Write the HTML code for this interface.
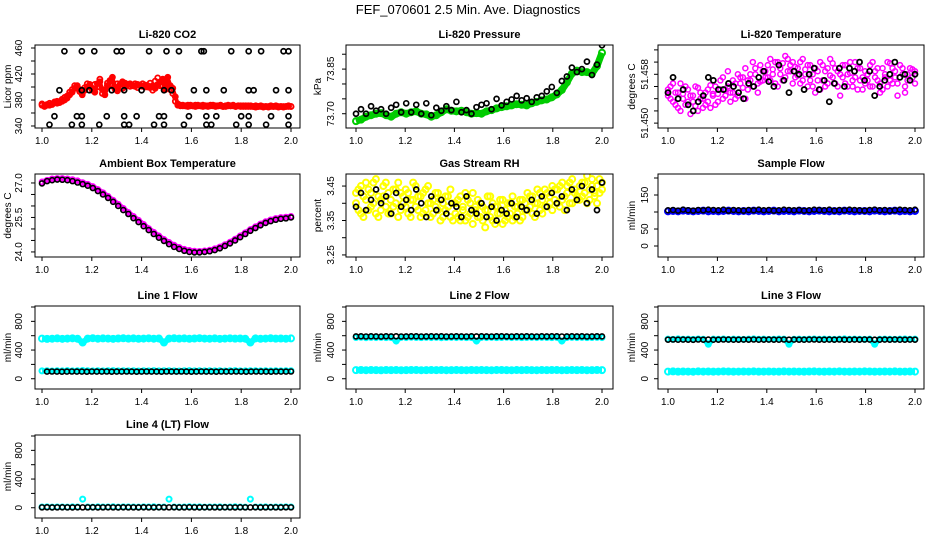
<!DOCTYPE html>
<html><head><meta charset="utf-8"><style>
html,body{margin:0;padding:0;background:#fff}
svg{display:block;font-family:"Liberation Sans",Arial,sans-serif}
</style></head><body>
<svg id="c" width="936" height="540" viewBox="0 0 936 540">
<rect width="936" height="540" fill="#fff"/>
<text x="468" y="14" text-anchor="middle" font-size="13">FEF_070601  2.5 Min. Ave. Diagnostics</text>
</svg>
<script>
const xTicks=[1.0,1.2,1.4,1.6,1.8,2.0];
const xTickLabels=["1.0","1.2","1.4","1.6","1.8","2.0"];
const co2BlackX=[1.09,1.16,1.21,1.30,1.32,1.43,1.50,1.55,1.64,1.65,1.76,1.83,1.88,1.97,1.99,1.07,1.16,1.19,1.28,1.33,1.40,1.49,1.52,1.61,1.66,1.73,1.83,1.85,1.94,1.99,1.05,1.14,1.16,1.26,1.33,1.38,1.47,1.49,1.59,1.66,1.70,1.80,1.83,1.92,1.99,1.03,1.12,1.16,1.23,1.33,1.35,1.45,1.49,1.57,1.66,1.68,1.78,1.83,1.90,1.99];
const co2BlackY=[455,455,455,455,455,455,455,455,455,455,455,455,455,455,455,395,395,395,395,395,395,395,395,395,395,395,395,395,395,395,355,355,355,355,355,355,355,355,355,355,355,355,355,355,355,342,342,342,342,342,342,342,342,342,342,342,342,342,342,342];
const co2Red=[372,371,373,372,374,376,375,377,378,380,383,388,392,398,402,396,390,395,400,404,398,392,405,408,396,388,402,410,415,400,394,404,408,400,403,405,402,401,404,402,401,403,400,399,402,398,404,408,412,396,415,402,398,385,374,372,371,371,372,371,371,372,371,371,372,371,370,371,372,371,371,371,370,371,372,371,371,370,371,371,370,371,371,370,370,371,370,370,369,370,370,371,370,370,369,370,370,370,371,370];
const co2Red2=[374,370,372,375,373,377,378,376,381,384,386,392,396,402,398,393,388,399,405,401,395,404,400,412,390,394,406,404,402,397,405,400,398,406,404,401,403,405,399,403,405,400,402,406,395,409,414,402,401,410,405,396,390,378,372,371,372,371,370,372,371,370,372,371,370,371,371,372,371,370,371,372,370,370,371,371,372,370,371,370,371,370,370,371,370,369,370,371,370,370,369,370,370,371,370,370,369,370,370,370];
const co2Ticks=[340,360,380,400,420,440,460];
const co2TickLabels=["340","","380","","420","","460"];
const presGreen=[73.675,73.680,73.690,73.695,73.700,73.702,73.695,73.690,73.700,73.705,73.700,73.705,73.708,73.700,73.698,73.690,73.695,73.705,73.715,73.710,73.708,73.710,73.705,73.700,73.702,73.700,73.708,73.712,73.718,73.722,73.725,73.728,73.732,73.730,73.728,73.735,73.740,73.745,73.748,73.755,73.765,73.780,73.805,73.835,73.845,73.840,73.840,73.835,73.860,73.905];
const presBlack=[73.700,73.715,73.700,73.725,73.710,73.715,73.700,73.720,73.730,73.705,73.735,73.705,73.730,73.700,73.735,73.695,73.720,73.710,73.725,73.712,73.740,73.705,73.712,73.700,73.722,73.730,73.735,73.715,73.750,73.728,73.740,73.748,73.760,73.745,73.752,73.740,73.755,73.760,73.775,73.790,73.770,73.810,73.825,73.855,73.840,73.850,73.875,73.830,73.865,73.930];
const presTicks=[73.70,73.75,73.80,73.85,73.90];
const presTickLabels=["73.70","","","73.85",""];
const tempMag=[51.4555,51.4540,51.4565,51.4530,51.4550,51.4520,51.4548,51.4560,51.4535,51.4515,51.4545,51.4528,51.4558,51.4540,51.4525,51.4550,51.4535,51.4562,51.4545,51.4530,51.4548,51.4570,51.4540,51.4555,51.4585,51.4535,51.4550,51.4565,51.4545,51.4575,51.4558,51.4540,51.4570,51.4580,51.4560,51.4590,51.4550,51.4568,51.4585,51.4575,51.4595,51.4570,51.4588,51.4600,51.4560,51.4580,51.4598,51.4575,51.4605,51.4585,51.4565,51.4592,51.4578,51.4600,51.4570,51.4588,51.4560,51.4595,51.4580,51.4550,51.4585,51.4600,51.4570,51.4560,51.4590,51.4578,51.4598,51.4565,51.4585,51.4545,51.4575,51.4595,51.4560,51.4582,51.4570,51.4600,51.4555,51.4590,51.4575,51.4565,51.4580,51.4595,51.4560,51.4585,51.4570,51.4550,51.4590,51.4575,51.4560,51.4598,51.4565,51.4585,51.4545,51.4575,51.4590,51.4560,51.4580,51.4570,51.4588,51.4565];
const tempMag2=[51.4545,51.4560,51.4535,51.4550,51.4525,51.4565,51.4540,51.4530,51.4555,51.4545,51.4535,51.4560,51.4520,51.4550,51.4540,51.4530,51.4555,51.4525,51.4548,51.4560,51.4535,51.4555,51.4575,51.4545,51.4560,51.4550,51.4570,51.4540,51.4580,51.4565,51.4575,51.4590,51.4555,51.4570,51.4600,51.4580,51.4565,51.4595,51.4570,51.4585,51.4575,51.4605,51.4580,51.4565,51.4600,51.4590,51.4570,51.4610,51.4585,51.4595,51.4600,51.4575,51.4590,51.4565,51.4605,51.4580,51.4595,51.4570,51.4560,51.4590,51.4570,51.4555,51.4595,51.4585,51.4565,51.4605,51.4575,51.4590,51.4560,51.4580,51.4595,51.4565,51.4580,51.4600,51.4560,51.4575,51.4590,51.4570,51.4555,51.4585,51.4570,51.4560,51.4600,51.4575,51.4590,51.4565,51.4555,51.4580,51.4600,51.4570,51.4590,51.4575,51.4565,51.4595,51.4580,51.4550,51.4570,51.4590,51.4575,51.4585];
const tempBlack=[51.4550,51.4575,51.4540,51.4555,51.4530,51.4520,51.4535,51.4545,51.4575,51.4570,51.4555,51.4555,51.4565,51.4560,51.4550,51.4540,51.4565,51.4560,51.4575,51.4585,51.4568,51.4560,51.4595,51.4570,51.4550,51.4585,51.4580,51.4555,51.4580,51.4590,51.4555,51.4570,51.4535,51.4565,51.4590,51.4560,51.4590,51.4585,51.4600,51.4570,51.4585,51.4545,51.4560,51.4570,51.4580,51.4600,51.4575,51.4580,51.4570,51.4580];
const tempTicks=[51.450,51.452,51.454,51.456,51.458,51.460,51.462];
const tempTickLabels=["51.450","","","","51.458","",""];
const ambMag=[27.05,27.12,27.18,27.20,27.20,27.18,27.15,27.10,27.02,26.95,26.85,26.72,26.58,26.42,26.25,26.08,25.90,25.72,25.55,25.38,25.20,25.02,24.86,24.70,24.55,24.42,24.30,24.20,24.12,24.07,24.04,24.03,24.05,24.08,24.14,24.22,24.32,24.43,24.56,24.70,24.84,24.98,25.10,25.22,25.32,25.40,25.46,25.50,25.52,25.55];
const ambBlack=[26.98,27.08,27.12,27.15,27.14,27.12,27.08,27.02,26.95,26.88,26.78,26.65,26.50,26.35,26.18,26.00,25.82,25.65,25.47,25.30,25.12,24.95,24.78,24.62,24.48,24.34,24.22,24.13,24.05,24.00,23.98,23.98,24.00,24.03,24.08,24.16,24.26,24.37,24.50,24.64,24.78,24.92,25.04,25.16,25.26,25.34,25.40,25.44,25.46,25.50];
const ambTicks=[24.0,24.5,25.0,25.5,26.0,26.5,27.0];
const ambTickLabels=["24.0","","","25.5","","","27.0"];
const rhYellow=[3.40,3.44,3.37,3.42,3.46,3.38,3.43,3.40,3.47,3.36,3.41,3.45,3.39,3.43,3.37,3.44,3.40,3.46,3.38,3.42,3.39,3.43,3.36,3.41,3.45,3.38,3.42,3.37,3.44,3.40,3.36,3.41,3.39,3.43,3.35,3.40,3.38,3.42,3.36,3.40,3.37,3.41,3.35,3.39,3.43,3.36,3.40,3.34,3.38,3.41,3.36,3.39,3.33,3.38,3.42,3.35,3.39,3.37,3.41,3.34,3.38,3.36,3.40,3.35,3.39,3.37,3.41,3.36,3.40,3.38,3.42,3.37,3.40,3.44,3.38,3.41,3.39,3.43,3.40,3.45,3.41,3.44,3.39,3.46,3.42,3.45,3.40,3.47,3.43,3.41,3.45,3.42,3.46,3.40,3.44,3.47,3.42,3.45,3.43,3.46];
const rhYellow2=[3.43,3.38,3.45,3.36,3.41,3.44,3.39,3.46,3.37,3.42,3.38,3.42,3.46,3.37,3.41,3.39,3.44,3.36,3.43,3.40,3.44,3.37,3.41,3.46,3.39,3.42,3.36,3.43,3.38,3.45,3.40,3.37,3.43,3.38,3.41,3.36,3.42,3.39,3.44,3.35,3.40,3.36,3.42,3.38,3.35,3.41,3.37,3.43,3.39,3.36,3.40,3.35,3.38,3.42,3.36,3.40,3.34,3.39,3.37,3.41,3.35,3.40,3.37,3.42,3.36,3.39,3.35,3.41,3.38,3.43,3.39,3.42,3.36,3.40,3.43,3.37,3.44,3.39,3.42,3.38,3.44,3.40,3.45,3.41,3.38,3.43,3.46,3.40,3.44,3.42,3.41,3.46,3.43,3.48,3.41,3.45,3.43,3.40,3.47,3.44];
const rhBlack=[3.39,3.43,3.38,3.41,3.44,3.40,3.42,3.37,3.43,3.39,3.41,3.38,3.44,3.40,3.36,3.42,3.38,3.41,3.37,3.40,3.39,3.36,3.42,3.38,3.37,3.40,3.36,3.39,3.35,3.38,3.37,3.40,3.36,3.39,3.38,3.41,3.37,3.42,3.39,3.43,3.40,3.42,3.38,3.44,3.41,3.45,3.40,3.44,3.38,3.46];
const rhTicks=[3.25,3.30,3.35,3.40,3.45];
const rhTickLabels=["3.25","","3.35","","3.45"];
const sampleBlue=[102,103,102,104,103,102,103,104,102,103,102,103,104,103,102,103,102,104,103,102,103,104,102,103,103,102,104,103,102,103,104,103,102,103,102,104,103,102,103,103,102,104,103,102,103,104,102,103,102,103];
const sampleBlack=[105,106,104,107,105,104,106,105,107,106,105,107,104,106,105,104,106,105,107,105,106,104,105,107,106,105,106,104,105,107,106,105,107,104,106,105,107,106,105,104,106,107,105,106,104,105,107,106,105,107];
const sampleTicks=[0,50,100,150,200];
const sampleTickLabels=["0","50","","150",""];
const l1CyanHi=[560,555,558,562,556,560,563,557,505,560,565,558,562,560,556,561,564,559,562,557,560,563,558,561,505,560,564,559,562,557,561,565,560,558,562,556,560,563,559,561,558,505,562,557,560,564,559,561,558,562];
const l1CyanLo=[110,112,108,111,109,113,110,112,115,111,109,112,110,111,113,109,112,110,111,108,112,110,113,109,111,112,110,108,111,113,110,112,109,111,110,112,108,111,113,110,109,112,111,110,112,109,111,110,112,111];
const l1Black=[100,101,100,99,100,101,100,100,99,101,100,100,101,99,100,100,101,100,99,100,101,100,100,99,101,100,100,101,100,99,100,101,100,100,99,101,100,100,101,100,99,100,101,100,100,99,101,100,100,101];
const l2Black=[590,592,589,591,590,588,592,590,591,589,590,592,591,589,590,591,590,592,589,590,591,590,589,592,590,591,590,589,591,592,590,589,591,590,592,590,589,591,590,592,591,589,590,591,590,592,589,590,591,590];
const l2CyanHi=[575,578,572,576,574,577,573,575,525,576,574,578,575,573,577,574,576,572,575,577,574,576,573,575,525,576,574,577,573,575,578,574,576,573,575,577,574,576,575,573,577,525,575,576,574,577,573,575,576,574];
const l2CyanLo=[120,122,119,121,120,118,122,120,121,119,120,122,121,119,120,121,120,122,119,120,121,120,119,122,120,121,120,119,121,122,120,119,121,120,122,120,119,121,120,122,121,119,120,121,120,122,119,120,121,120];
const l3Black=[545,547,544,546,545,543,547,545,546,544,545,547,546,544,545,546,545,547,544,545,546,545,544,547,545,546,545,544,546,547,545,544,546,545,547,545,544,546,545,547,546,544,545,546,545,547,544,545,546,545];
const l3CyanHi=[552,548,555,550,553,549,554,551,480,552,550,554,549,553,551,548,552,555,550,553,549,551,554,552,480,550,553,549,552,554,550,553,551,549,552,555,550,553,551,549,552,480,550,553,551,549,552,554,550,552];
const l3CyanLo=[100,102,99,101,100,98,102,100,101,99,100,102,101,99,100,101,100,102,99,100,101,100,99,102,100,101,100,99,101,102,100,99,101,100,102,100,99,101,100,102,101,99,100,101,100,102,99,100,101,100];
const l4Cyan=[10,12,9,11,10,8,12,10,120,11,9,12,10,11,13,9,12,10,11,8,12,10,13,9,11,120,10,8,11,13,10,12,9,11,10,12,8,11,13,10,9,120,11,10,12,9,11,10,12,11];
const l4Black=[5,6,4,5,6,5,4,6,5,5,6,4,5,6,5,4,6,5,5,4,6,5,4,6,5,5,6,4,5,6,5,4,6,5,5,4,6,5,4,6,5,5,6,4,5,6,5,4,6,5];
const flowTicks=[0,200,400,600,800,1000];
const flowTickLabels=["0","","400","","800",""];

const NS="http://www.w3.org/2000/svg";
const svg=document.getElementById('c');
function mk(tag,attrs,parent){const e=document.createElementNS(NS,tag);for(const k in attrs)e.setAttribute(k,attrs[k]);parent.appendChild(e);return e;}
const COLS=[{l:35,r:300,xa:42,xb:291,lab:18,tit:8},{l:346,r:613,xa:356,xb:602,lab:330,tit:318},{l:658,r:924,xa:668,xb:915,lab:644,tit:632}];
const ROWS=[45,174,306,435];const H=83;
function seqX(n){const a=[];for(let i=0;i<n;i++)a.push(1+i/(n-1));return a;}
function panel(p){
  const c=COLS[p.col],t=ROWS[p.row],b=t+H;
  const g=mk('g',{},svg);
  
  
  const sx=v=>c.xa+(v-1)*(c.xb-c.xa);
  const sy=v=>b-(v-p.ymin)/(p.ymax-p.ymin)*H;
  const tt=mk('text',{x:(c.l+c.r)/2,y:t-7,'text-anchor':'middle','font-size':'11','font-weight':'bold'},g);
  tt.textContent=p.title;
  
  
  const yl=mk('text',{x:0,y:0,'text-anchor':'middle','font-size':'10',transform:`translate(${c.tit+3},${(t+b)/2}) rotate(-90)`},g);
  yl.textContent=p.ylab;
  
  
  p.yt.forEach((v,i)=>{const y=sy(v);mk('line',{x1:c.l-4,x2:c.l,y1:y,y2:y,stroke:'#000'},g);
    if(p.ytl[i]){const tx=mk('text',{x:0,y:0,'text-anchor':'middle','font-size':'10',transform:`translate(${c.lab+4},${y}) rotate(-90)`},g);tx.textContent=p.ytl[i];
    
    }});
  xTicks.forEach((v,i)=>{const x=sx(v);mk('line',{x1:x,x2:x,y1:b,y2:b+4,stroke:'#000'},g);
    const tx=mk('text',{x:x,y:b+16,'text-anchor':'middle','font-size':'10'},g);tx.textContent=xTickLabels[i];
    
    });
  const cl='clip'+p.row+p.col;
  const cp=mk('clipPath',{id:cl},g);mk('rect',{x:c.l,y:t,width:c.r-c.l,height:H},cp);
  const dg=mk('g',{'clip-path':`url(#${cl})`},g);
  p.series.forEach(s=>{const xs=s.x||seqX(s.y.length);
    if(s.line){mk('polyline',{points:s.y.map((v,i)=>sx(xs[i])+','+sy(v)).join(' '),fill:'none',stroke:s.color,'stroke-width':s.line,'stroke-linejoin':'round'},dg);}
    s.y.forEach((v,i)=>{const ci=mk('circle',{cx:sx(xs[i]),cy:sy(v),r:s.r||2.5,fill:'none',stroke:s.color,'stroke-width':s.sw||1.2},dg);
      
      });});
  const bx=mk('rect',{x:c.l,y:t,width:c.r-c.l,height:H,fill:'none',stroke:'#000','stroke-width':1},g);
  
  
}
const R='#ff0000',K='#000',M='#ff00ff',C='#00ffff';
panel({name:'co2-panel',col:0,row:0,title:'Li-820 CO2',ylab:'Licor ppm',ymin:336.9,ymax:464.6,yt:co2Ticks,ytl:co2TickLabels,
 series:[{y:co2Red,color:R,sw:1.8,line:4},{y:co2Red2,color:R,sw:1.8},{x:co2BlackX,y:co2BlackY,color:K,sw:1.7}]});
panel({name:'pressure-panel',col:1,row:0,title:'Li-820 Pressure',ylab:'kPa',ymin:73.652,ymax:73.931,yt:presTicks,ytl:presTickLabels,
 series:[{y:presGreen,color:'#00cc00',sw:2,r:3,line:7},{y:presBlack,color:K,sw:1.7}]});
panel({name:'temperature-panel',col:2,row:0,title:'Li-820 Temperature',ylab:'degrees C',ymin:51.4492,ymax:51.4628,yt:tempTicks,ytl:tempTickLabels,
 series:[{y:tempMag,color:M,sw:1.5},{y:tempMag2,color:M,sw:1.5},{y:tempBlack,color:K,sw:1.8}]});
panel({name:'ambient-temp-panel',col:0,row:1,title:'Ambient Box Temperature',ylab:'degrees C',ymin:23.78,ymax:27.39,yt:ambTicks,ytl:ambTickLabels,
 series:[{y:ambMag,color:M,sw:1.6,line:5},{y:ambBlack,color:K,sw:1.6}]});
panel({name:'rh-panel',col:1,row:1,title:'Gas Stream RH',ylab:'percent',ymin:3.244,ymax:3.485,yt:rhTicks,ytl:rhTickLabels,
 series:[{y:rhYellow,color:'#ffff00',sw:2,r:3},{y:rhYellow2,color:'#ffff00',sw:2,r:3},{y:rhBlack,color:K,sw:1.7}]});
panel({name:'sample-flow-panel',col:2,row:1,title:'Sample Flow',ylab:'ml/min',ymin:-32.4,ymax:211.8,yt:sampleTicks,ytl:sampleTickLabels,
 series:[{y:sampleBlue,color:'#0000ff',sw:2,r:3,line:6},{y:sampleBlack,color:K,sw:1.5}]});
panel({name:'line1-flow-panel',col:0,row:2,title:'Line 1 Flow',ylab:'ml/min',ymin:-143,ymax:1014,yt:flowTicks,ytl:flowTickLabels,
 series:[{y:l1CyanHi,color:C,sw:2,r:3,line:6},{y:l1CyanLo,color:C,sw:2,line:5},{y:l1Black,color:K,sw:1.6,x:l1Black.map((v,i)=>1.02+i*0.98/(l1Black.length-1))}]});
panel({name:'line2-flow-panel',col:1,row:2,title:'Line 2 Flow',ylab:'ml/min',ymin:-143,ymax:1014,yt:flowTicks,ytl:flowTickLabels,
 series:[{y:l2CyanHi,color:C,sw:2,line:5},{y:l2CyanLo,color:C,sw:2,r:3,line:6},{y:l2Black,color:K,sw:1.6}]});
panel({name:'line3-flow-panel',col:2,row:2,title:'Line 3 Flow',ylab:'ml/min',ymin:-143,ymax:1014,yt:flowTicks,ytl:flowTickLabels,
 series:[{y:l3CyanHi,color:C,sw:2,line:5},{y:l3CyanLo,color:C,sw:2,r:3,line:6},{y:l3Black,color:K,sw:1.6}]});
panel({name:'line4-flow-panel',col:0,row:3,title:'Line 4 (LT) Flow',ylab:'ml/min',ymin:-143,ymax:1014,yt:flowTicks,ytl:flowTickLabels,
 series:[{y:l4Cyan,color:C,sw:2},{y:l4Black,color:K,sw:1.6}]});
</script>
</body></html>
